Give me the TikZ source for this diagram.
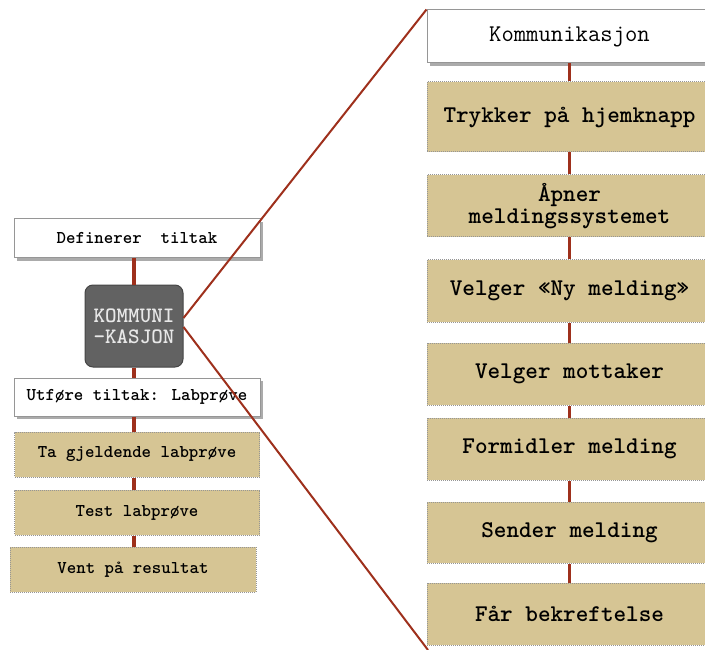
\documentclass[tikz,border=0pt]{standalone}
\usepackage{fontspec}
\usetikzlibrary{shadows}
\definecolor{tanfill}{RGB}{214,197,148}
\definecolor{linkred}{RGB}{158,48,28}
\definecolor{darkbox}{RGB}{98,98,98}
\definecolor{boxedge}{RGB}{150,150,150}
\definecolor{lighttext}{RGB}{232,232,232}
\tikzset{
  whitebox/.style={draw=boxedge, line width=1pt, fill=white, inner sep=0pt,
    drop shadow={shadow xshift=3pt, shadow yshift=-3pt, fill=boxedge!80, opacity=1}},
  tanbox/.style={draw=boxedge, densely dotted, line width=1pt, fill=tanfill, inner sep=0pt},
  darkstep/.style={draw=darkbox!70!black, line width=1pt, fill=darkbox, rounded corners=8pt,
    inner sep=0pt, text=lighttext, align=center,
    font=\ttfamily\bfseries\fontsize{22}{21}\selectfont},
  smalltext/.style={font=\ttfamily\bfseries\fontsize{18}{18}\selectfont\addfontfeature{FakeBold=1}},
  bigtext/.style={font=\ttfamily\bfseries\fontsize{24}{22}\selectfont, align=center},
  link/.style={draw=linkred, line width=3.5pt},
  diag/.style={draw=linkred, line width=2pt},
}
\begin{document}
\begin{tikzpicture}[x=1pt, y=-1pt]
\useasboundingbox (0,0) rectangle (705,650);
\clip (0,0) rectangle (705,650);

% left column
\node[whitebox, smalltext, minimum width=246pt, minimum height=39pt] (def) at (137,238.5) {Definerer\ \ tiltak};
\node[darkstep, minimum width=98pt, minimum height=82pt] (kom) at (134,326) {KOMMUNI\\-KASJON};
\node[whitebox, smalltext, minimum width=246pt, minimum height=38pt] (utf) at (137,397) {Utføre tiltak: Labprøve};
\node[tanbox, smalltext, minimum width=245pt, minimum height=45pt] (ta) at (137,454.5) {Ta gjeldende labprøve};
\node[tanbox, smalltext, minimum width=245pt, minimum height=45pt] (test) at (137,512.5) {Test labprøve};
\node[tanbox, smalltext, minimum width=246pt, minimum height=45pt] (vent) at (133,569.5) {Vent på resultat};

\draw[link] (def.south -| kom.center) -- (kom.north);
\draw[link] (kom.south) -- (utf.north -| kom.center);
\draw[link] (utf.south -| kom.center) -- (ta.north -| kom.center);
\draw[link] (ta.south -| kom.center) -- (test.north -| kom.center);
\draw[link] (test.south -| kom.center) -- (vent.north -| kom.center);

% right column
\node[whitebox, minimum width=285pt, minimum height=53pt,
  font=\ttfamily\fontsize{24}{22}\selectfont] (r0) at (569.5,36.5) {Kommunikasjon};
\node[tanbox, bigtext, minimum width=285pt, minimum height=70pt] (r1) at (569.5,117) {Trykker på hjemknapp};
\node[tanbox, bigtext, minimum width=285pt, minimum height=62pt] (r2) at (569.5,206) {Åpner\\meldingssystemet};
\node[tanbox, bigtext, minimum width=285pt, minimum height=62pt] (r3) at (569.5,291) {Velger «Ny melding»};
\node[tanbox, bigtext, minimum width=285pt, minimum height=62pt] (r4) at (569.5,374) {Velger mottaker};
\node[tanbox, bigtext, minimum width=285pt, minimum height=62pt] (r5) at (569.5,449) {Formidler melding};
\node[tanbox, bigtext, minimum width=285pt, minimum height=61pt] (r6) at (569.5,532.5) {Sender melding};
\node[tanbox, bigtext, minimum width=285pt, minimum height=62pt] (r7) at (569.5,614) {Får bekreftelse};

\foreach \a/\b in {r0/r1, r1/r2, r2/r3, r3/r4, r4/r5, r5/r6, r6/r7}
  \draw[link] (\a.south) -- (\b.north);

% zoom lines from the summary box to the detailed column
\coordinate (zoomend) at (428,650);
\draw[diag] (kom.east |- 0,318) -- (r0.north west);
\draw[diag] (kom.east |- 0,327) -- (zoomend);
\end{tikzpicture}
\end{document}
